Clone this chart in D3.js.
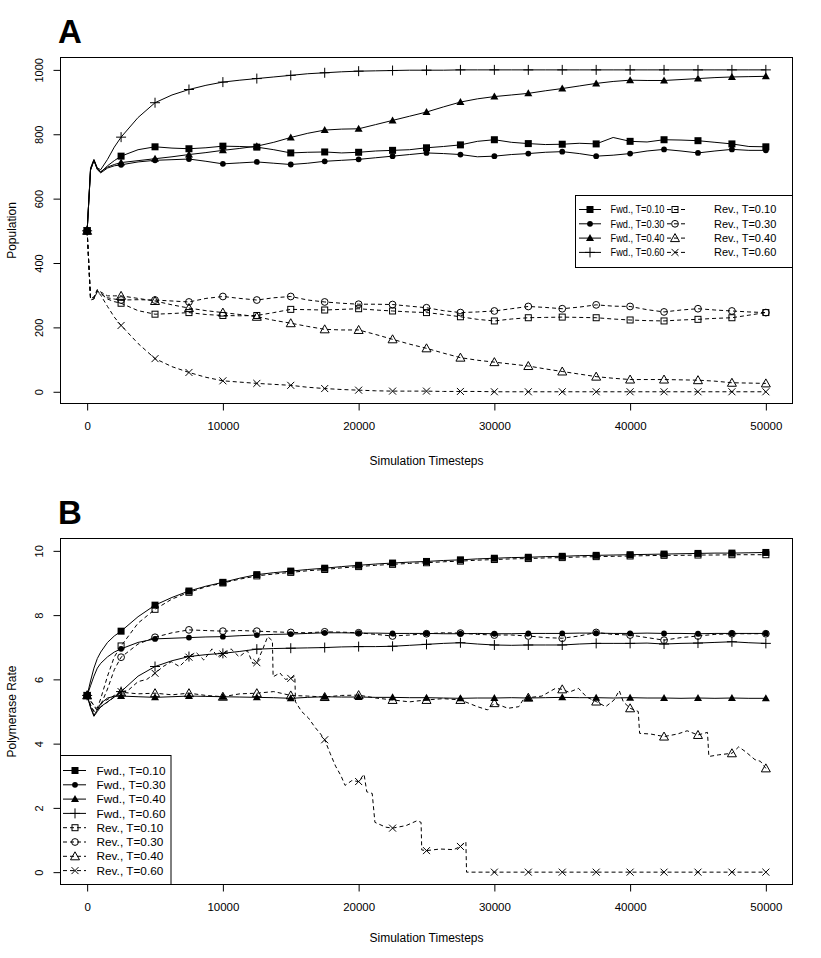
<!DOCTYPE html>
<html>
<head>
<meta charset="utf-8">
<script src="https://cdn.jsdelivr.net/npm/d3@7"></script>
<style>
  body { margin: 0; background: #fff; }
  text { font-family: "Liberation Sans", Arial, sans-serif; fill: #000; }
</style>
</head>
<body>
<svg id="svg" width="821" height="958"></svg>
<script>
// time grid shared by the smooth series
var tGrid = [0,250,500,750,1000,1500,2000,2500,3750,5000,6250,7500,8750,10000,11250,12500,13750,15000,16250,17500,18750,20000,21250,22500,23750,25000,26250,27500,28750,30000,31250,32500,33750,35000,36250,37500,38750,40000,41250,42500,43750,45000,46250,47500,48750,50000];

// panel A : population
var aFwd10 = [500,690,720,692,682,702,718,732,752,761,757,755,758,763,762,760,752,742,744,745,742,744,748,750,752,758,762,767,778,783,775,771,768,769,772,770,790,778,776,783,782,780,775,770,762,761];
var aFwd30 = [500,688,718,690,680,695,702,705,714,719,721,723,716,708,711,714,710,706,710,716,719,722,727,732,737,742,740,737,730,732,737,740,744,746,740,732,735,740,748,753,748,742,748,753,750,750];
var aFwd40 = [500,690,719,693,684,698,706,712,718,724,730,737,743,750,756,763,775,790,803,813,816,817,830,843,856,869,885,900,910,917,922,927,935,942,950,958,964,968,967,967,970,973,976,978,979,980];
var aFwd60 = [500,695,722,695,690,722,760,791,852,898,922,939,952,962,968,973,978,983,988,991,994,996,997,998,999,999,999,1000,1000,1000,1000,1000,1000,1000,1000,1000,1000,1000,1000,1000,1000,1000,1000,1000,1000,1000];
var aRev10 = [500,292,290,312,305,288,280,275,252,241,243,246,240,237,236,237,246,256,255,254,256,258,254,251,248,246,240,233,225,220,226,230,231,232,231,230,226,223,221,220,223,225,228,230,238,246];
var aRev30 = [500,290,292,315,306,292,288,285,286,285,282,279,290,296,290,285,292,296,285,279,275,272,272,271,266,261,252,246,248,251,258,265,262,258,263,270,266,265,255,248,254,258,254,251,248,246];
var aRev40 = [500,288,295,318,310,298,298,298,290,282,270,260,252,246,240,233,222,213,203,194,192,192,178,163,148,135,120,106,98,92,86,80,71,63,55,47,42,38,38,38,37,36,33,28,27,26];
var aRev60 = [500,285,288,312,300,265,232,206,150,103,78,60,45,34,30,26,23,20,14,10,7,5,3,2,2,2,1,1,1,0,0,0,0,0,0,0,0,0,0,0,0,0,0,0,0,0];

// panel B : polymerase rate
var bFwd10 = [5.5,5.95,6.35,6.65,6.85,7.15,7.35,7.5,7.95,8.31,8.55,8.75,8.9,9.02,9.15,9.26,9.32,9.37,9.42,9.46,9.51,9.55,9.59,9.62,9.65,9.67,9.7,9.72,9.75,9.77,9.79,9.8,9.82,9.83,9.85,9.86,9.87,9.88,9.89,9.9,9.91,9.92,9.93,9.93,9.94,9.95];
var bFwd30 = [5.5,5.8,6.1,6.35,6.5,6.7,6.85,6.95,7.15,7.26,7.28,7.3,7.32,7.33,7.36,7.38,7.4,7.41,7.43,7.45,7.45,7.44,7.44,7.43,7.43,7.43,7.42,7.42,7.43,7.42,7.42,7.43,7.43,7.43,7.44,7.44,7.43,7.43,7.44,7.43,7.43,7.42,7.43,7.43,7.43,7.43];
var bFwd40 = [5.5,5.15,4.88,5.05,5.25,5.42,5.47,5.48,5.46,5.44,5.46,5.48,5.47,5.46,5.45,5.44,5.43,5.41,5.44,5.46,5.45,5.45,5.44,5.44,5.43,5.43,5.42,5.41,5.42,5.42,5.43,5.42,5.43,5.44,5.43,5.43,5.42,5.43,5.42,5.42,5.41,5.42,5.41,5.42,5.41,5.41];
var bFwd60 = [5.5,5.12,4.85,5.0,5.15,5.3,5.45,5.62,6.1,6.4,6.58,6.71,6.77,6.81,6.87,6.94,6.96,6.97,6.98,6.99,7.01,7.02,7.02,7.03,7.06,7.09,7.12,7.14,7.1,7.07,7.06,7.07,7.07,7.07,7.1,7.12,7.12,7.12,7.13,7.1,7.12,7.13,7.15,7.17,7.14,7.12];
var bRev10 = [5.5,5.2,5.0,5.1,5.4,6.1,6.7,7.04,7.75,8.18,8.5,8.71,8.88,9.0,9.12,9.22,9.28,9.33,9.38,9.42,9.47,9.51,9.55,9.58,9.61,9.63,9.66,9.68,9.71,9.73,9.75,9.76,9.78,9.79,9.81,9.82,9.83,9.84,9.85,9.86,9.86,9.87,9.87,9.88,9.88,9.88];
var bRev30 = [5.5,5.2,5.0,5.05,5.2,5.7,6.3,6.69,7.1,7.31,7.45,7.54,7.52,7.5,7.52,7.5,7.48,7.46,7.45,7.48,7.47,7.45,7.4,7.35,7.38,7.42,7.45,7.44,7.4,7.38,7.38,7.35,7.3,7.28,7.35,7.46,7.4,7.38,7.3,7.22,7.3,7.35,7.4,7.42,7.42,7.42];
// the two noisy reverse runs have their own time points
var bRev40T = [0,300,700,1200,2000,2500,3750,5000,6250,7500,8750,10000,11250,12500,13750,15000,16250,17500,18750,20000,21250,22500,23750,25000,26250,27500,28750,29500,30000,31000,31800,32200,32500,33500,34000,34500,35000,35500,36200,36800,37500,38200,38800,39200,39500,40000,40600,40700,41500,42500,43500,44200,45000,45700,45800,46500,47500,48000,48500,49200,49600,50000];
var bRev40 = [5.5,5.3,5.1,5.3,5.5,5.6,5.55,5.57,5.52,5.57,5.5,5.46,5.55,5.57,5.62,5.5,5.48,5.45,5.5,5.51,5.42,5.36,5.3,5.36,5.4,5.36,5.15,5.05,5.26,5.1,5.15,5.42,5.43,5.48,5.6,5.72,5.69,5.6,5.72,5.45,5.31,5.15,5.35,5.65,5.3,5.1,5.0,4.32,4.3,4.22,4.3,4.4,4.27,4.35,3.6,3.65,3.7,3.9,3.75,3.5,3.45,3.23];
var bRev60T = [0,300,700,1200,2000,2500,3000,3750,4400,5000,5600,6200,6800,7500,8000,8600,9200,9600,10000,10600,11200,11800,12200,12500,12900,13300,13650,13700,14200,14600,15000,15300,15350,15800,16300,16800,17200,17500,17900,18300,18700,19000,19500,20000,20400,20600,21000,21200,22000,22500,23500,24300,24600,24650,25000,26000,27000,27500,27900,27950,30000,32500,35000,37500,40000,42500,45000,47500,50000];
var bRev60 = [5.5,5.3,5.05,5.2,5.45,5.62,5.65,5.93,6.0,6.19,6.4,6.55,6.4,6.69,6.85,6.6,6.95,6.7,6.79,6.95,6.7,6.9,6.5,6.52,6.9,7.33,7.2,6.08,6.2,6.0,6.03,6.1,5.3,5.0,4.8,4.5,4.3,4.12,3.7,3.3,3.0,2.7,2.85,2.82,3.05,2.5,2.45,1.55,1.4,1.37,1.45,1.6,1.55,0.69,0.67,0.72,0.7,0.8,0.95,0,0,0,0,0,0,0,0,0,0];

var xTicks = [0,10000,20000,30000,40000,50000];
var yTicksA = [0,200,400,600,800,1000];
var yTicksB = [0,2,4,6,8,10];
var temps = ["T=0.10","T=0.30","T=0.40","T=0.60"];
var fwdSyms = ["sqF","circF","triF","plus"];
var revSyms = ["sqO","circO","triO","times"];

function pairs(ts, vs){ return ts.map(function(t,i){ return {t:t, v:vs[i]}; }); }

var svg = d3.select("#svg");
var box = {left:60, right:793};
var xScale = d3.scaleLinear().domain([-2000,52000]).range([box.left, box.right]);

function marker(g, kind, cx, cy){
  var p;
  switch(kind){
    case "sqF": g.append("rect").attr("x",cx-3.5).attr("y",cy-3.5).attr("width",7).attr("height",7).attr("fill","#000"); return;
    case "circF": g.append("circle").attr("cx",cx).attr("cy",cy).attr("r",2.9).attr("fill","#000"); return;
    case "triF": p = "M"+cx+","+(cy-4)+"L"+(cx+4)+","+(cy+3)+"L"+(cx-4)+","+(cy+3)+"Z";
      g.append("path").attr("d",p).attr("fill","#000"); return;
    case "plus": p = "M"+(cx-5)+","+cy+"H"+(cx+5)+"M"+cx+","+(cy-5)+"V"+(cy+5); break;
    case "sqO": g.append("rect").attr("x",cx-3).attr("y",cy-3).attr("width",6).attr("height",6).attr("fill","none").attr("stroke","#000"); return;
    case "circO": g.append("circle").attr("cx",cx).attr("cy",cy).attr("r",3.4).attr("fill","none").attr("stroke","#000"); return;
    case "triO": p = "M"+cx+","+(cy-4.5)+"L"+(cx+4.5)+","+(cy+3.5)+"L"+(cx-4.5)+","+(cy+3.5)+"Z"; break;
    case "times": p = "M"+(cx-3.5)+","+(cy-3.5)+"L"+(cx+3.5)+","+(cy+3.5)+"M"+(cx+3.5)+","+(cy-3.5)+"L"+(cx-3.5)+","+(cy+3.5); break;
  }
  g.append("path").attr("d",p).attr("fill","none").attr("stroke","#000").attr("stroke-width",1);
}

function drawPanel(o){
  var yScale = d3.scaleLinear().domain(o.yDomain).range([o.bottom, o.top]);
  var g = svg.append("g");
  var line = d3.line().x(function(d){ return xScale(d.t); }).y(function(d){ return yScale(d.v); });

  o.series.forEach(function(s){
    g.append("path").datum(s.data)
      .attr("d", line).attr("fill","none").attr("stroke","#000").attr("stroke-width",1)
      .attr("stroke-dasharray", s.dash ? "4,3" : null);
  });
  o.series.forEach(function(s){
    s.data.forEach(function(d){
      if(d.t % 2500 === 0) marker(g, s.sym, xScale(d.t), yScale(d.v));
    });
  });

  // frame
  svg.append("rect").attr("x",box.left+0.5).attr("y",o.top+0.5)
    .attr("width",box.right-box.left-1).attr("height",o.bottom-o.top-1)
    .attr("fill","none").attr("stroke","#000");

  // x axis
  var xAxis = svg.append("g").attr("transform","translate(0,"+(o.bottom-0.5)+")")
    .call(d3.axisBottom(xScale).tickValues(xTicks).tickSize(7).tickPadding(11).tickFormat(d3.format("d")));
  xAxis.select(".domain").remove();
  xAxis.selectAll("text").attr("font-size","11.5px").attr("font-family","Liberation Sans, Arial, sans-serif");

  // y axis, labels written upward like R
  var yAxis = svg.append("g").attr("transform","translate("+(box.left+0.5)+",0)")
    .call(d3.axisLeft(yScale).tickValues(o.yTicks).tickSize(7).tickFormat(d3.format("d")));
  yAxis.select(".domain").remove();
  yAxis.selectAll("text").attr("x",null).attr("dy","0.35em")
    .attr("transform","translate(-21,0) rotate(-90)").attr("text-anchor","middle")
    .attr("font-size","11px").attr("font-family","Liberation Sans, Arial, sans-serif");

  svg.append("text").attr("x",(box.left+box.right)/2).attr("y",o.bottom+o.titleOff)
    .attr("text-anchor","middle").attr("font-size","12px").text("Simulation Timesteps");
  svg.append("text").attr("transform","translate(16,"+((o.top+o.bottom)/2)+") rotate(-90)")
    .attr("text-anchor","middle").attr("font-size","12px").text(o.yTitle);
  svg.append("text").attr("x",58).attr("y",o.top-14)
    .attr("font-size","33px").attr("font-weight","bold").text(o.letter);
  return yScale;
}

var panelA = [aFwd10,aFwd30,aFwd40,aFwd60].map(function(v,i){ return {data:pairs(tGrid,v), sym:fwdSyms[i], dash:false}; })
  .concat([aRev10,aRev30,aRev40,aRev60].map(function(v,i){ return {data:pairs(tGrid,v), sym:revSyms[i], dash:true}; }));
drawPanel({top:57, bottom:404, yDomain:[-38,1040], yTicks:yTicksA, yTitle:"Population", letter:"A", titleOff:61, series:panelA});

var panelB = [bFwd10,bFwd30,bFwd40,bFwd60].map(function(v,i){ return {data:pairs(tGrid,v), sym:fwdSyms[i], dash:false}; })
  .concat([
    {data:pairs(tGrid,bRev10), sym:revSyms[0], dash:true},
    {data:pairs(tGrid,bRev30), sym:revSyms[1], dash:true},
    {data:pairs(bRev40T,bRev40), sym:revSyms[2], dash:true},
    {data:pairs(bRev60T,bRev60), sym:revSyms[3], dash:true}
  ]);
drawPanel({top:538, bottom:885, yDomain:[-0.4,10.4], yTicks:yTicksB, yTitle:"Polymerase Rate", letter:"B", titleOff:57, series:panelB});

// legend A : two columns, top right
var legA = svg.append("g");
legA.append("rect").attr("x",575.5).attr("y",195.5).attr("width",217).attr("height",72)
  .attr("fill","#fff").attr("stroke","#000");
temps.forEach(function(t,i){
  var y = 209.5 + i*14.3;
  legA.append("line").attr("x1",579).attr("x2",601).attr("y1",y).attr("y2",y).attr("stroke","#000");
  marker(legA, fwdSyms[i], 590, y);
  legA.append("text").attr("x",610.5).attr("y",y).attr("dy","0.35em").attr("font-size","11px")
    .attr("textLength",54).attr("lengthAdjust","spacingAndGlyphs").text("Fwd., "+t);
  legA.append("line").attr("x1",667).attr("x2",686).attr("y1",y).attr("y2",y).attr("stroke","#000").attr("stroke-dasharray","4,3");
  marker(legA, revSyms[i], 675, y);
  legA.append("text").attr("x",714).attr("y",y).attr("dy","0.35em").attr("font-size","11px").text("Rev., "+t);
});

// legend B : one column, bottom left
var legB = svg.append("g");
legB.append("rect").attr("x",60.5).attr("y",755.5).attr("width",110.5).attr("height",129)
  .attr("fill","#fff").attr("stroke","#000");
var legBItems = temps.map(function(t,i){ return {label:"Fwd., "+t, sym:fwdSyms[i], dash:false}; })
  .concat(temps.map(function(t,i){ return {label:"Rev., "+t, sym:revSyms[i], dash:true}; }));
legBItems.forEach(function(it,i){
  var y = 770.5 + i*14.3;
  legB.append("line").attr("x1",63).attr("x2",86).attr("y1",y).attr("y2",y).attr("stroke","#000")
    .attr("stroke-dasharray", it.dash ? "4,3" : null);
  marker(legB, it.sym, 75, y);
  legB.append("text").attr("x",96.5).attr("y",y).attr("dy","0.35em").attr("font-size","11.8px").text(it.label);
});
</script>
</body>
</html>
